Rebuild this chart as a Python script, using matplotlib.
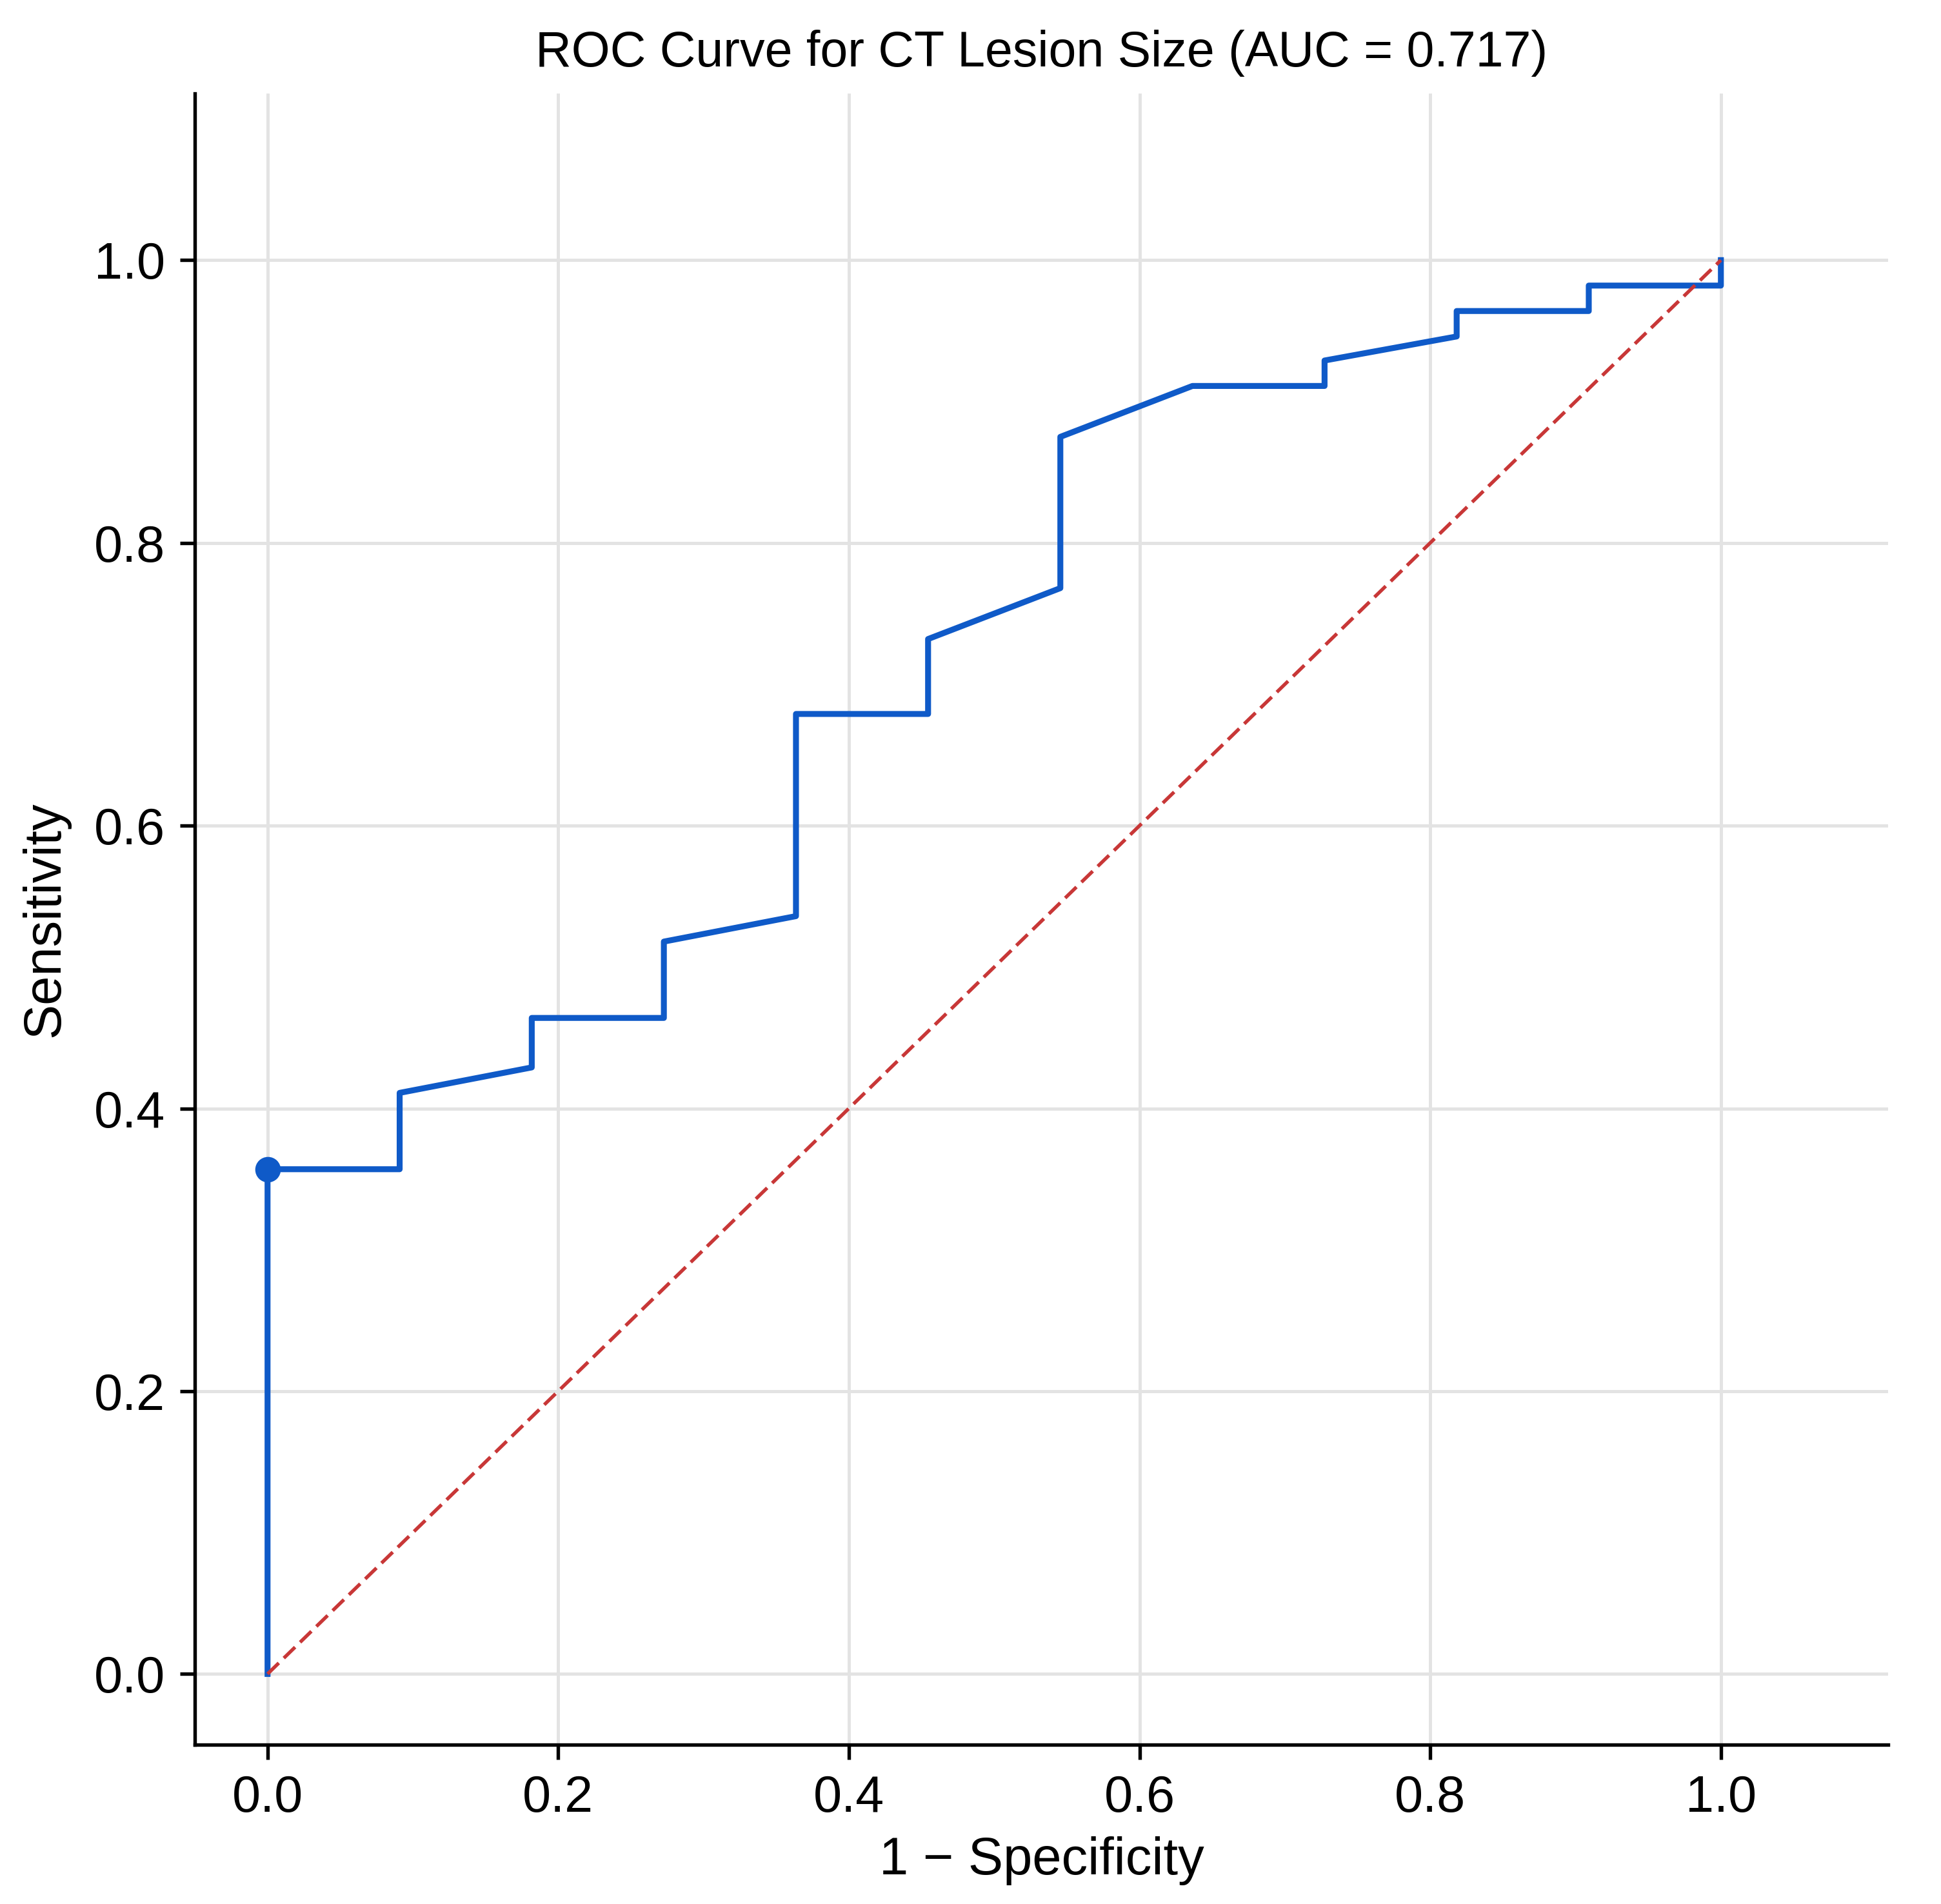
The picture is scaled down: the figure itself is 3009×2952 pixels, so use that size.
import numpy as np
import matplotlib
matplotlib.use("Agg")
from matplotlib import pyplot as plt

plt.rcParams['font.family'] = ['Liberation Sans', 'DejaVu Sans']

# ROC vertices (1 - specificity, sensitivity)
fpr = [0.0, 0.0, 0.0909, 0.0909, 0.1818, 0.1818, 0.2727, 0.2727, 0.3636, 0.3636,
       0.4545, 0.4545, 0.5455, 0.5455, 0.6364, 0.7273, 0.7273, 0.8182, 0.8182,
       0.9091, 0.9091, 1.0, 1.0]
tpr = [0.0, 0.357, 0.357, 0.411, 0.429, 0.464, 0.464, 0.518, 0.536, 0.679,
       0.679, 0.732, 0.768, 0.875, 0.911, 0.911, 0.929, 0.946, 0.964,
       0.964, 0.982, 0.982, 1.0]
best_fpr = 0.0
best_tpr = 0.357
auc = 0.717

ticks = [0.0, 0.2, 0.4, 0.6, 0.8, 1.0]

fig = plt.figure(figsize=(10.03, 9.84), dpi=300)
ax = fig.add_axes([0.1004, 0.0837, 0.8723, 0.8673])

ax.plot(fpr, tpr, color='#0f5ac8', lw=2.2, zorder=3)
ax.plot([best_fpr], [best_tpr], 'o', color='#0f5ac8', ms=8.5, zorder=4)
ax.plot([0, 1], [0, 1], '--', color='#c83737', lw=1.3, dashes=(4.5, 2.0), zorder=5)

ax.set_xlim(-0.05, 1.115)
ax.set_ylim(-0.05, 1.118)
ax.set_xticks(ticks)
ax.set_yticks(ticks)
ax.grid(True, color='#e3e3e3', lw=1.2)
ax.set_axisbelow(True)
for s in ['top', 'right']:
    ax.spines[s].set_visible(False)
for s in ['left', 'bottom']:
    ax.spines[s].set_linewidth(1.3)
ax.tick_params(labelsize=19, length=5.5, width=1.3, pad=5.5)

ax.set_xlabel('1 − Specificity', fontsize=19.5, labelpad=5)
ax.set_ylabel('Sensitivity', fontsize=19.5, labelpad=9)
ax.set_title(f'ROC Curve for CT Lesion Size (AUC = {auc:.3f})', fontsize=18.5, pad=10)

fig.savefig('out.png', dpi=300)
